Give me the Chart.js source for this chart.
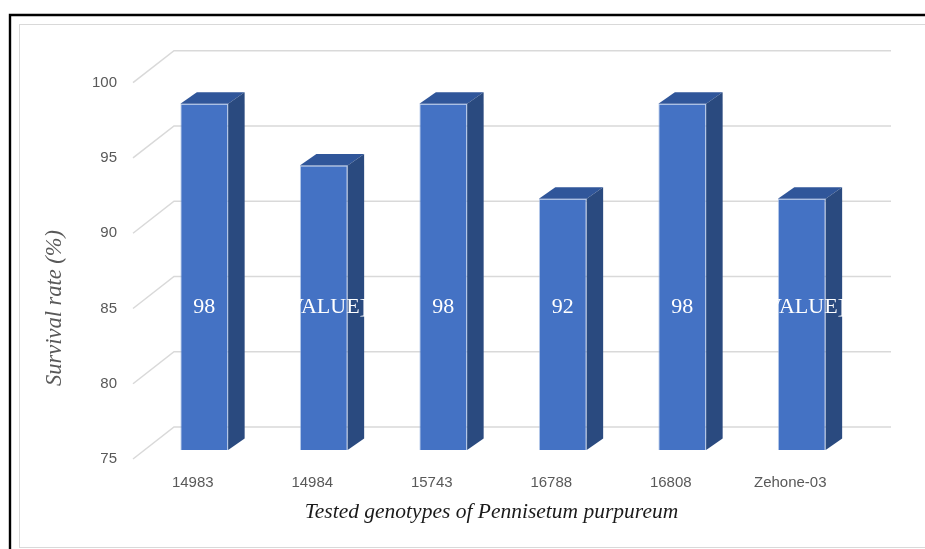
<!DOCTYPE html>
<html>
<head>
<meta charset="utf-8">
<title>Survival rate</title>
<script src="https://cdn.jsdelivr.net/npm/chart.js@4.4.1/dist/chart.umd.min.js"></script>
<style>
  html, body { margin: 0; padding: 0; background: #fff; }
  canvas { display: block; }
</style>
</head>
<body>
<canvas id="survival-chart" width="925" height="549"></canvas>
<script>
const genotypes = ["14983", "14984", "15743", "16788", "16808", "Zehone-03"];
const survivalRates = [98, 93.9, 98, 91.7, 98, 91.7];
const barLabels = ["98", "[VALUE]", "98", "92", "98", "[VALUE]"];
const yTicks = [75, 80, 85, 90, 95, 100];

// fake 3d offsets (excel 3-D column look)
const wallDepth = { x: 41, y: -32 };
const barFront = { x: 11.5, y: -9 };
const barDepth = { x: 16.5, y: -11.5 };
const labelLevel = 84.5;

const gridColor = "#d9d9d9";
const frontColor = "#4472c4";
const topColor = "#30569a";
const sideColor = "#2a4a7f";

Chart.defaults.font.family = '"Liberation Sans", Arial, sans-serif';

const threeDPlugin = {
  id: "threeD",
  beforeDraw(chart) {
    const { ctx } = chart;
    ctx.save();
    ctx.fillStyle = "#fff";
    ctx.fillRect(0, 0, chart.width, chart.height);
    // outer frames
    ctx.strokeStyle = gridColor;
    ctx.lineWidth = 1;
    ctx.strokeRect(19.5, 24.5, chart.width, 523);
    ctx.strokeStyle = "#000";
    ctx.lineWidth = 2.4;
    ctx.beginPath();
    ctx.moveTo(10, chart.height);
    ctx.lineTo(10, 15);
    ctx.lineTo(chart.width, 15);
    ctx.stroke();
    ctx.restore();
  },
  beforeDatasetsDraw(chart) {
    const { ctx, chartArea } = chart;
    const yScale = chart.scales.y;
    ctx.save();
    ctx.strokeStyle = gridColor;
    ctx.lineWidth = 1.5;
    for (const tick of yTicks) {
      const y = yScale.getPixelForValue(tick);
      ctx.beginPath();
      ctx.moveTo(chartArea.left, y);
      ctx.lineTo(chartArea.left + wallDepth.x, y + wallDepth.y);
      ctx.lineTo(chartArea.right + wallDepth.x, y + wallDepth.y);
      ctx.stroke();
    }
    // y axis title
    ctx.translate(55, 308);
    ctx.rotate(-Math.PI / 2);
    ctx.font = 'italic 22.5px "Liberation Serif", serif';
    ctx.fillStyle = "#595959";
    ctx.textAlign = "center";
    ctx.textBaseline = "middle";
    ctx.fillText("Survival rate (%)", 0, 0);
    ctx.restore();

    // front faces are drawn by chart.js, shifted into the bar plane
    ctx.save();
    ctx.translate(barFront.x, barFront.y);
  },
  afterDatasetsDraw(chart) {
    const { ctx } = chart;
    ctx.restore();
    const yScale = chart.scales.y;
    const meta = chart.getDatasetMeta(0);

    ctx.save();
    meta.data.forEach((bar, i) => {
      const { x, y, base, width } = bar.getProps(["x", "y", "base", "width"], true);
      const left = x - width / 2 + barFront.x;
      const right = x + width / 2 + barFront.x;
      const top = y + barFront.y;
      const bottom = base + barFront.y;

      ctx.fillStyle = topColor;
      ctx.beginPath();
      ctx.moveTo(left, top);
      ctx.lineTo(right, top);
      ctx.lineTo(right + barDepth.x, top + barDepth.y);
      ctx.lineTo(left + barDepth.x, top + barDepth.y);
      ctx.closePath();
      ctx.fill();

      ctx.fillStyle = sideColor;
      ctx.beginPath();
      ctx.moveTo(right, top);
      ctx.lineTo(right + barDepth.x, top + barDepth.y);
      ctx.lineTo(right + barDepth.x, bottom + barDepth.y);
      ctx.lineTo(right, bottom);
      ctx.closePath();
      ctx.fill();

      ctx.font = '22px "Liberation Serif", serif';
      ctx.fillStyle = "#fff";
      ctx.textAlign = "center";
      ctx.textBaseline = "middle";
      ctx.fillText(barLabels[i], x + barFront.x, yScale.getPixelForValue(labelLevel) + barFront.y);
    });
    ctx.restore();
  },
};

new Chart(document.getElementById("survival-chart"), {
  type: "bar",
  data: {
    labels: genotypes,
    datasets: [
      {
        label: "Survival rate (%)",
        data: survivalRates,
        base: 75,
        backgroundColor: frontColor,
        borderColor: "rgba(160, 185, 228, 0.7)",
        borderWidth: 1,
        barPercentage: 0.8,
        categoryPercentage: 0.5,
      },
    ],
  },
  options: {
    responsive: false,
    animation: false,
    layout: {
      padding: { left: 0, top: 82.7, right: 75, bottom: 20 },
    },
    plugins: {
      legend: { display: false },
      tooltip: { enabled: false },
    },
    scales: {
      x: {
        grid: { display: false },
        border: { display: false },
        ticks: {
          color: "#595959",
          font: { size: 15 },
          padding: 7,
          maxRotation: 0,
        },
        title: {
          display: true,
          text: "Tested genotypes of Pennisetum purpureum",
          color: "#1a1a1a",
          font: { family: '"Liberation Serif", serif', size: 21.5, style: "italic" },
          padding: { top: 4, bottom: 4 },
        },
        afterFit(scale) {
          scale.height = 70;
        },
      },
      y: {
        min: 75,
        max: 100,
        grid: { display: false },
        border: { display: false },
        ticks: {
          stepSize: 5,
          color: "#595959",
          font: { size: 15 },
          padding: 8,
        },
        afterFit(scale) {
          scale.width = 133;
        },
      },
    },
  },
  plugins: [threeDPlugin],
});
</script>
</body>
</html>
